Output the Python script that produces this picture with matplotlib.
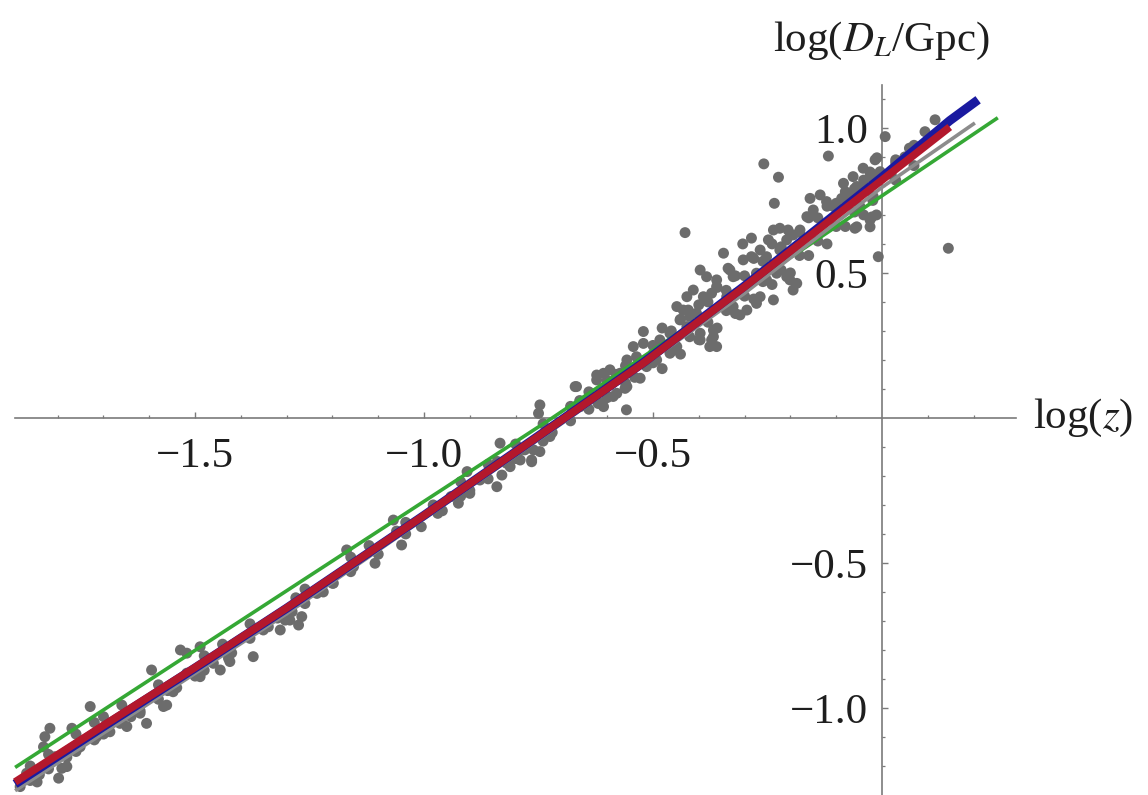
import matplotlib
matplotlib.use("Agg")
import matplotlib.pyplot as plt

plt.rcParams["font.family"] = ["Liberation Serif", "DejaVu Serif"]
plt.rcParams["mathtext.fontset"] = "stix"

# model curves (log z, log D_L)
red_x = [-1.893, -1.70, -1.50, -1.30, -1.00, -0.70, -0.52, -0.30, -0.155, 0.0, 0.148]
red_y = [-1.255, -1.06, -0.86, -0.655, -0.336, -0.008, 0.19, 0.452, 0.63, 0.82, 1.003]
blue_x = [-1.893, -1.70, -1.50, -1.30, -1.00, -0.70, -0.52, -0.30, -0.155, 0.0, 0.148, 0.21]
blue_y = [-1.262, -1.064, -0.862, -0.656, -0.336, -0.007, 0.192, 0.455, 0.635, 0.83, 1.025, 1.097]
grey_x = [-1.893, -1.30, -0.70, -0.30, 0.0, 0.203]
grey_y = [-1.285, -0.675, -0.02, 0.43, 0.795, 1.017]
green_x = [-1.893, -0.72, 0.253]
green_y = [-1.205, 0.0, 1.035]

# data points
pts_x = [
    -1.817, -1.828, -1.831, -1.798, -1.780, -1.806, -1.769, -1.729, -1.715, -1.751,
    -1.686, -1.664, -1.620, -1.606, -1.595, -1.569, -1.562, -1.548, -1.532, -1.518,
    -1.489, -1.489, -1.460, -1.445, -1.424, -1.373, -1.314, -1.293, -1.518, -1.635,
    -1.649, -1.868, -1.882, -1.845, -1.791,
    -0.750, -0.834, -0.841, -0.765, -0.747, -0.790, -0.812, -0.830, -0.906, -0.900,
    -0.925, -1.049, -1.067, -1.107, -1.169, -1.198, -1.154, -1.267, -1.274, -1.303,
    -1.288, -1.427, -1.351, -1.234, -1.006, -0.970, -0.941, -0.878, -0.805, -0.725,
    -0.747, -0.667, -0.623, -0.608, -0.587, -0.561, -0.528, -0.332, -0.376, -0.368,
    -0.558, -0.761, -0.820, -0.790, -0.765,
    -0.117, -0.258, -0.226, -0.235, -0.430, -0.346, -0.304, -0.285, -0.397, -0.383,
    -0.361, -0.336, -0.325, -0.303, -0.285, -0.266, -0.248, -0.237, -0.223, -0.205,
    -0.194, -0.157, -0.135, -0.121, -0.150, -0.164, -0.084, -0.063, -0.041, -0.015,
    -0.004, -0.026, -0.055, -0.070, -0.048, -0.059, -0.026, -0.012, -0.008, -0.201,
    -0.186, -0.194, -0.237, -0.274, -0.295, -0.310, -0.266, -0.252, -0.230, -0.208,
    -0.426, -0.412, -0.390, -0.372, -0.361, -0.423, -0.405, -0.383, -0.368, -0.372,
    -0.361, -0.397, -0.426, -0.441, -0.463, -0.485, -0.499, -0.521, -0.521, -0.543,
    -0.536, -0.557, -0.572, -0.594, -0.608, -0.623, -0.579, -0.601, -0.616, -0.670,
    -0.645, -0.659, -0.557, -0.463, -0.448, -0.492, -0.514, -0.397, -0.325, -0.339,
    -0.317, -0.448, -0.434, -0.274, -0.223, -0.252, -0.208, -0.179, -0.106, -0.088,
    -0.041, -0.019,
    0.007, 0.094, 0.116, 0.145, -0.011, -0.026, -0.022, -0.055, -0.026, 0.03,
    0.05, 0.02, 0.06,
    -1.86, -1.86, -1.82, -1.82, -1.76, -1.76, -1.72, -1.72, -1.66, -1.66,
    -1.62, -1.58, -1.58, -1.54, -1.48, -1.48, -1.42, -1.38, -1.38, -1.34,
    -1.26, -1.26, -1.22, -1.16, -1.16, -1.10, -1.04, -1.04, -0.96, -0.92,
    -0.92, -0.86, -0.86, -0.80, -0.80, -0.74, -0.74, -0.68, -0.68, -0.64,
    -0.64, -0.60, -0.60, -0.56, -0.56, -0.50, -0.50, -0.46, -0.46, -0.42,
    -0.42, -0.38, -0.38, -0.34, -0.34, -0.30, -0.30, -0.26, -0.26, -0.22,
    -0.22, -0.18, -0.18, -0.14, -0.14, -0.10, -0.10, -0.06, -0.06, -0.02,
    -0.02, 0.03, 0.03, 0.07, 0.07,
    -0.48, -0.48, -0.44, -0.44, -0.40, -0.40, -0.36, -0.36, -0.32, -0.32,
    -0.28, -0.28, -0.24, -0.24, -0.20, -0.20, -0.16, -0.16, -0.12, -0.12,
    -0.08, -0.08, -0.04, -0.04,
    -1.84, -1.78, -1.70, -1.70, -1.64, -1.56, -1.50, -1.44, -1.32, -1.28,
    -1.20, -1.12, -1.06, -0.98, -0.90, -0.84, -0.78, -0.72, -0.66, -0.62,
    -0.58, -0.54,
]
pts_y = [
    -1.070, -1.099, -1.134, -1.242, -1.202, -1.168, -1.070, -0.995, -1.099, -1.134,
    -1.082, -1.053, -1.018, -1.053, -0.869, -0.995, -0.990, -0.944, -0.800, -0.811,
    -0.789, -0.892, -0.846, -0.869, -0.840, -0.823, -0.731, -0.697, -0.880, -1.007,
    -1.064, -1.225, -1.271, -1.255, -1.208,
    0.016, -0.087, -0.237, -0.145, -0.116, -0.145, -0.168, -0.197, -0.185, -0.260,
    -0.294, -0.438, -0.352, -0.501, -0.455, -0.570, -0.513, -0.685, -0.714, -0.697,
    -0.668, -0.829, -0.731, -0.605, -0.375, -0.329, -0.271, -0.214, -0.133, -0.064,
    0.045, 0.108, 0.148, 0.039, 0.074, 0.102, 0.137, 0.510, 0.246, 0.280,
    0.028, -0.110, -0.156, -0.110, -0.151,
    0.903, 0.876, 0.830, 0.740, 0.639, 0.568, 0.600, 0.620, 0.510, 0.487,
    0.476, 0.516, 0.487, 0.545, 0.556, 0.579, 0.614, 0.648, 0.654, 0.648,
    0.631, 0.757, 0.769, 0.746, 0.717, 0.694, 0.809, 0.832, 0.861, 0.890,
    0.849, 0.832, 0.798, 0.763, 0.729, 0.654, 0.683, 0.700, 0.556, 0.476,
    0.464, 0.441, 0.407, 0.395, 0.372, 0.355, 0.418, 0.476, 0.499, 0.487,
    0.418, 0.441, 0.418, 0.430, 0.453, 0.372, 0.361, 0.338, 0.303, 0.269,
    0.246, 0.292, 0.315, 0.338, 0.292, 0.269, 0.223, 0.257, 0.298, 0.246,
    0.211, 0.200, 0.154, 0.166, 0.154, 0.131, 0.085, 0.074, 0.051, 0.108,
    0.062, 0.039, 0.108, 0.223, 0.246, 0.200, 0.177, 0.269, 0.384, 0.418,
    0.430, 0.384, 0.372, 0.499, 0.579, 0.556, 0.614, 0.648, 0.729, 0.757,
    0.786, 0.763,
    0.970, 0.987, 1.028, 0.585, 0.897, 0.848, 0.693, 0.659, 0.659, 0.88,
    0.90, 0.84, 0.93,
    -1.25, -1.20, -1.21, -1.16, -1.15, -1.09, -1.11, -1.05, -1.05, -0.99,
    -1.01, -0.97, -0.92, -0.93, -0.87, -0.82, -0.81, -0.76, -0.71, -0.72,
    -0.64, -0.59, -0.60, -0.53, -0.48, -0.47, -0.40, -0.36, -0.32, -0.27,
    -0.22, -0.21, -0.16, -0.14, -0.09, -0.08, -0.02, -0.01, 0.04, 0.03,
    0.09, 0.07, 0.13, 0.12, 0.18, 0.19, 0.25, 0.23, 0.30, 0.28,
    0.35, 0.33, 0.40, 0.37, 0.44, 0.42, 0.49, 0.47, 0.54, 0.51,
    0.59, 0.56, 0.64, 0.61, 0.69, 0.66, 0.74, 0.71, 0.79, 0.75,
    0.84, 0.82, 0.89, 0.87, 0.94,
    0.17, 0.31, 0.22, 0.34, 0.27, 0.39, 0.31, 0.45, 0.36, 0.49,
    0.41, 0.55, 0.46, 0.60, 0.50, 0.63, 0.56, 0.69, 0.60, 0.73,
    0.66, 0.78, 0.70, 0.82,
    -1.23, -1.17, -1.09, -1.03, -1.03, -0.94, -0.89, -0.78, -0.69, -0.62,
    -0.57, -0.44, -0.39, -0.30, -0.25, -0.15, -0.11, -0.05, 0.06, 0.05,
    0.15, 0.14,
]

x_major = [-1.5, -1.0, -0.5]
x_major_labels = ["\u22121.5", "\u22121.0", "\u22120.5"]
x_minor = [-1.8, -1.7, -1.6, -1.4, -1.3, -1.2, -1.1, -0.9, -0.8, -0.7,
           -0.6, -0.4, -0.3, -0.2, -0.1, 0.1, 0.2]
y_major = [-1.0, -0.5, 0.5, 1.0]
y_major_labels = ["\u22121.0", "\u22120.5", "0.5", "1.0"]
y_minor = [-1.2, -1.1, -0.9, -0.8, -0.7, -0.6, -0.4, -0.3, -0.2, -0.1,
           0.1, 0.2, 0.3, 0.4, 0.6, 0.7, 0.8, 0.9, 1.1]

AXIS = "#7a7a7a"
INK = "#1e1e1e"
FS = 31

fig = plt.figure(figsize=(11.48, 7.95), dpi=100)
ax = fig.add_axes([0, 0, 1, 1])
ax.set_xlim(-1.926, 0.581)
ax.set_ylim(-1.300, 1.441)

ax.scatter(pts_x, pts_y, s=62, c="#6c6c6c", edgecolors="none", zorder=2)
ax.plot(green_x, green_y, color="#35a835", lw=2.6, zorder=3, solid_capstyle="butt")
ax.plot(grey_x, grey_y, color="#8c8c8c", lw=2.6, zorder=3, solid_capstyle="butt")
ax.plot(blue_x, blue_y, color="#1a1aa0", lw=6.5, zorder=4, solid_capstyle="butt")
ax.plot(red_x, red_y, color="#b3182c", lw=5.5, zorder=5, solid_capstyle="butt")

# Mathematica-style axes crossing at the origin
for side in ("top", "right"):
    ax.spines[side].set_visible(False)
ax.spines["left"].set_position(("data", 0))
ax.spines["bottom"].set_position(("data", 0))
ax.spines["bottom"].set_bounds(-1.893, 0.293)
ax.spines["left"].set_bounds(-1.300, 1.148)
for side in ("left", "bottom"):
    ax.spines[side].set_color(AXIS)
    ax.spines[side].set_linewidth(1.2)
    ax.spines[side].set_zorder(1)

ax.set_xticks(x_major)
ax.set_xticklabels(x_major_labels)
ax.set_xticks(x_minor, minor=True)
ax.set_yticks(y_major)
ax.set_yticklabels(y_major_labels)
ax.set_yticks(y_minor, minor=True)
ax.tick_params(which="major", direction="in", length=4.5, width=1.0, color=AXIS,
               labelsize=FS, labelcolor=INK)
ax.tick_params(which="minor", direction="in", length=2.5, width=0.9, color=AXIS)
ax.tick_params(axis="x", which="major", pad=14)
ax.tick_params(axis="y", which="major", pad=10)

ax.text(0.33, 0.0, r"log($z$)", fontsize=FS, ha="left", va="center", color=INK)
ax.text(0.0, 1.30, r"log($D_L$/Gpc)", fontsize=FS, ha="center", va="center", color=INK)

fig.savefig("out.png", dpi=100, facecolor="white")
